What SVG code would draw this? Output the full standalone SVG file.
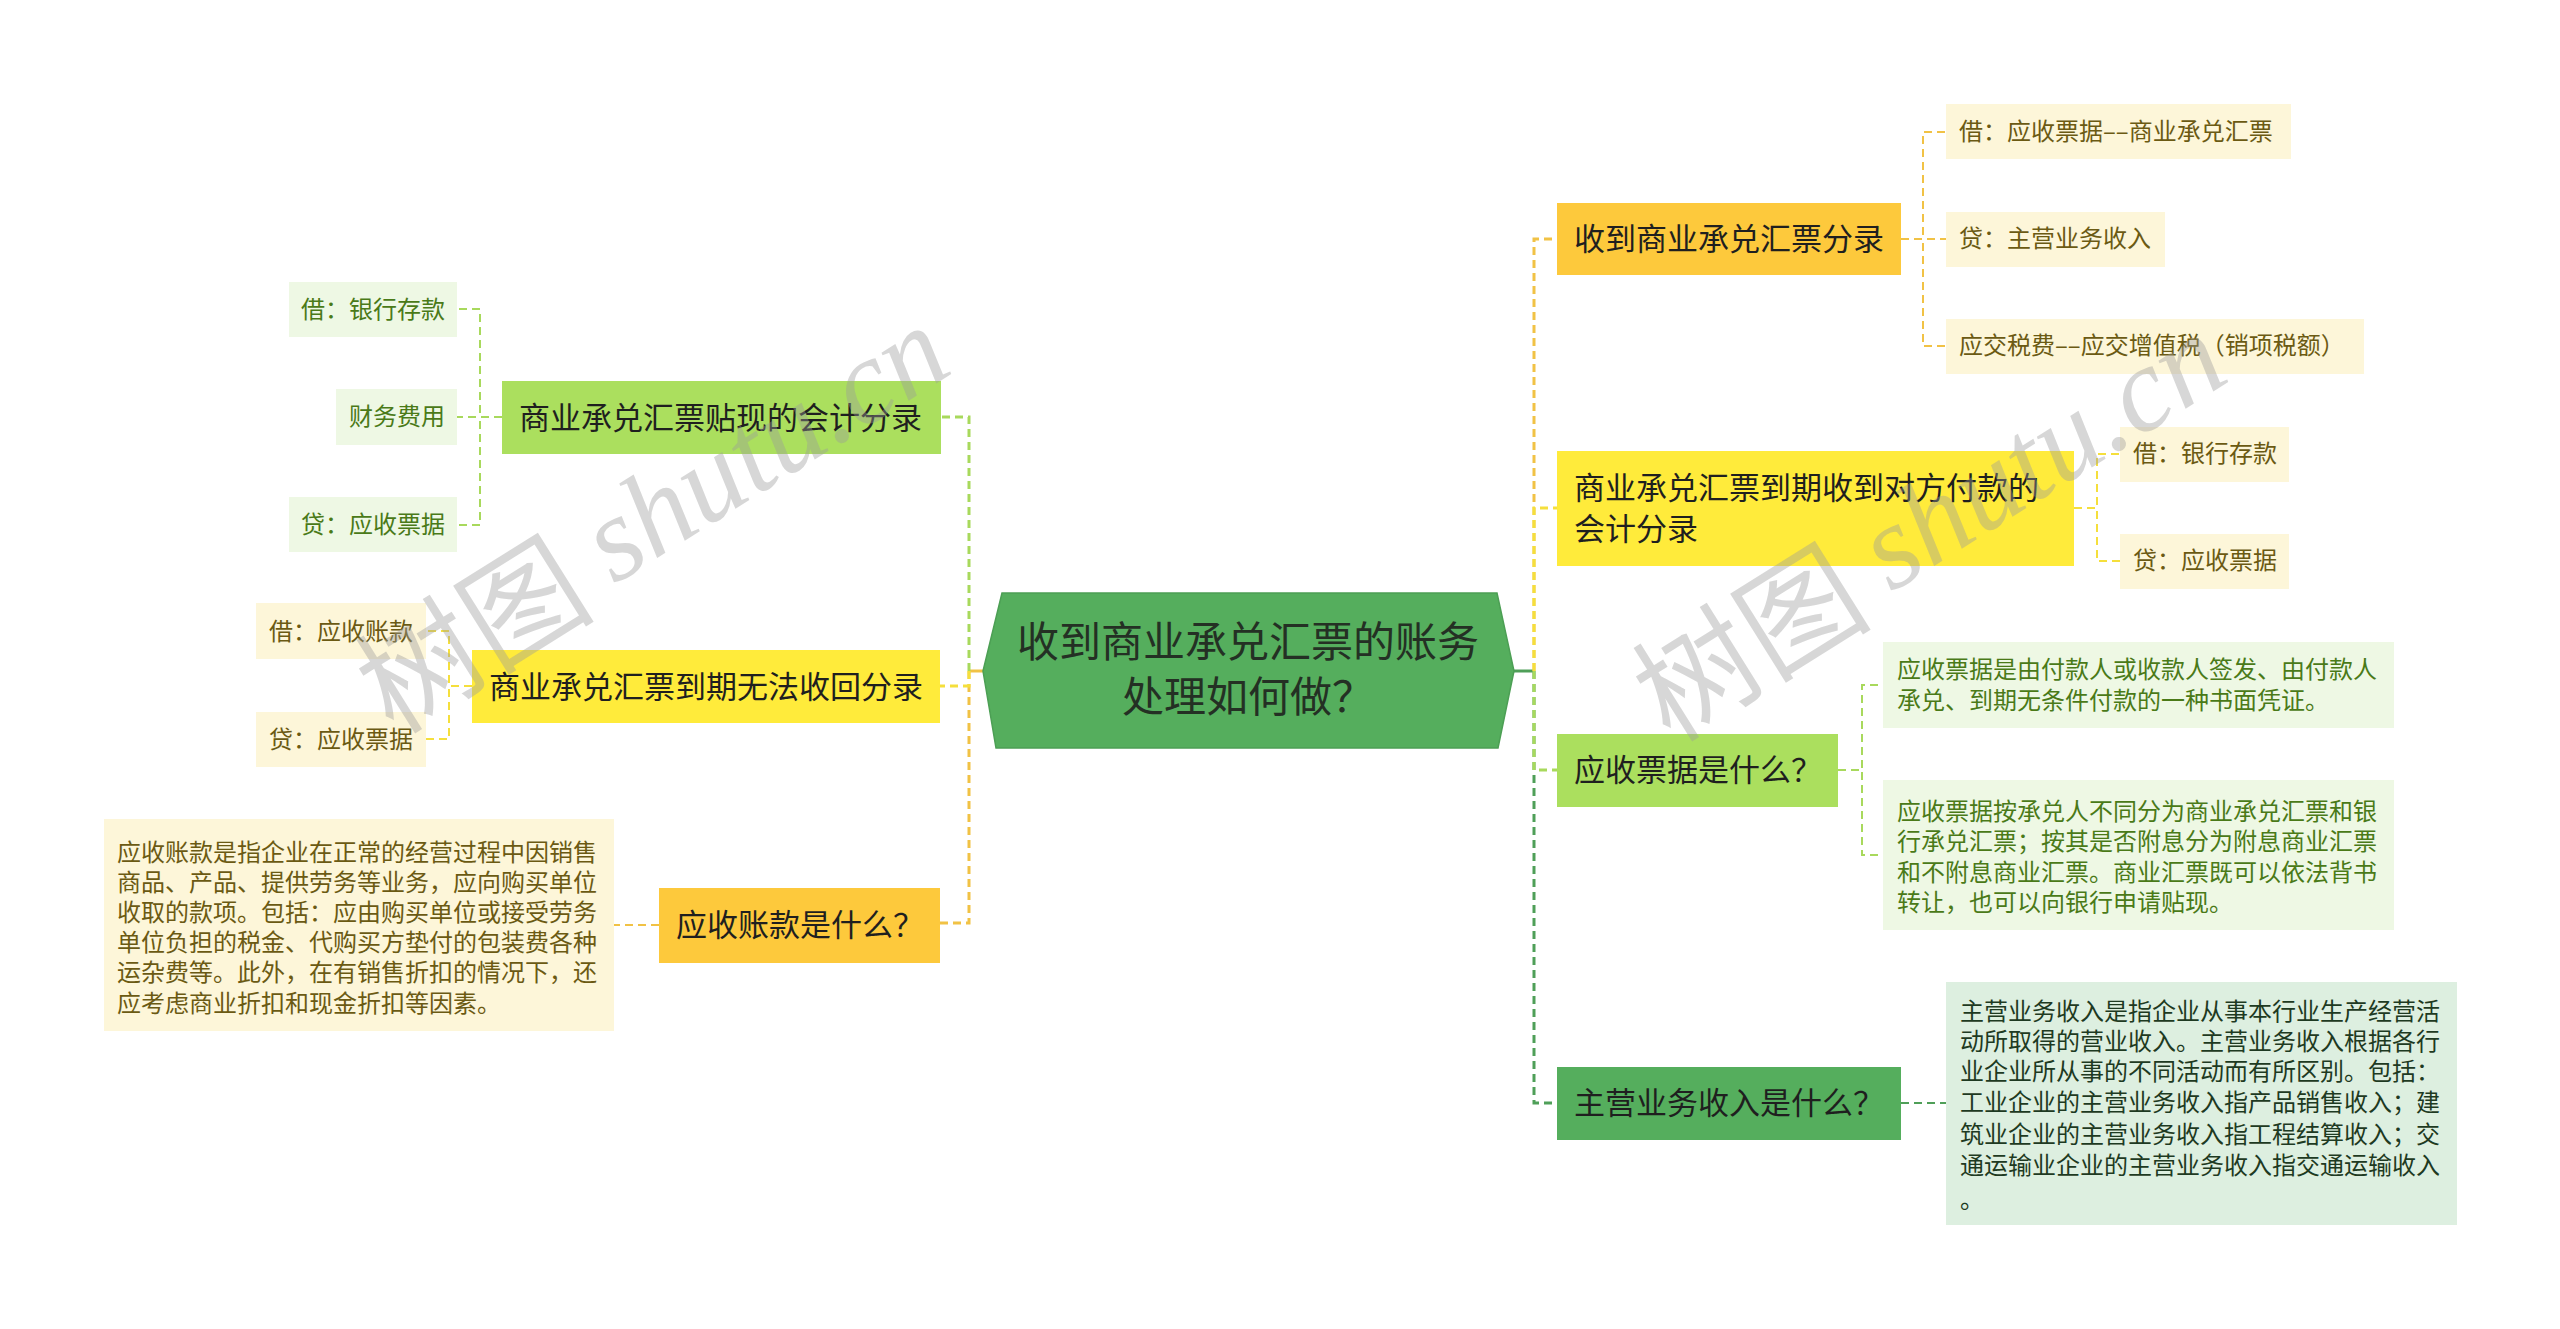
<svg xmlns="http://www.w3.org/2000/svg" width="2560" height="1329" viewBox="0 0 2560 1329">
<style>
text{font-family:"Noto Sans CJK SC","Noto Sans",sans-serif;dominant-baseline:central}
.main{font-size:42px;fill:#243024;text-anchor:middle;transform:translateY(-5px)}
.br{font-size:31px;fill:#1f1f1f;transform:translateY(-3px)}
.lf{font-size:24px;transform:translateY(-3px)}
.ty{fill:#6b5a13}
.tg{fill:#4a7a18}
.td{fill:#1e3a22}
.bo{fill:#fdc93c}
.by{fill:#ffeb3b}
.bl{fill:#abdf5e}
.bd{fill:#55ae5d}
.ly{fill:#fdf6d9}
.lg{fill:#eef8e4}
.ld{fill:#ddefe0}
.c{fill:none;stroke-width:2;stroke-dasharray:8 5}
.t{fill:none;stroke-width:3;stroke-dasharray:8 5}
.s{fill:none;stroke-width:3}
.co{stroke:#f1c245}
.cy{stroke:#f5df3c}
.cl{stroke:#a8d95c}
.cd{stroke:#4f9f58}
.wm{font-size:120px;fill:#9a9a9a;fill-opacity:0.4;text-anchor:middle}
</style>

<g id="connectors">
  <path class="s co" d="M969 671 H983"/>
  <path class="t cl" d="M969 671 V417 H941"/>
  <path class="t co" d="M969 671 V923 H940"/>
  <path class="t cy" d="M969 671 V686 H940"/>
  <path class="s cd" d="M1514 671 H1534"/>
  <path class="t co" d="M1534 671 V239 H1557"/>
  <path class="t cy" d="M1534 671 V508 H1557"/>
  <path class="t cd" d="M1534 671 V1103 H1557"/>
  <path class="t cl" d="M1534 671 V770 H1557"/>
  <path class="c co" d="M1901 239 H1923 V132 H1946"/>
  <path class="c co" d="M1901 239 H1946"/>
  <path class="c co" d="M1901 239 H1923 V346 H1946"/>
  <path class="c cy" d="M2074 508 H2097 V454 H2120"/>
  <path class="c cy" d="M2074 508 H2097 V561 H2120"/>
  <path class="c cl" d="M1838 770 H1862 V685 H1883"/>
  <path class="c cl" d="M1838 770 H1862 V855 H1883"/>
  <path class="c cd" d="M1901 1103 H1946"/>
  <path class="c cl" d="M502 417 H480 V309 H457"/>
  <path class="c cl" d="M502 417 H457"/>
  <path class="c cl" d="M502 417 H480 V525 H457"/>
  <path class="c cy" d="M472 686 H449 V631 H426"/>
  <path class="c cy" d="M472 686 H449 V739 H426"/>
  <path class="c co" d="M659 925 H614"/>
</g>

<g id="center">
  <polygon points="1002,593 1497,593 1514,671 1498,748 996,748 983,671" fill="#55ae5d" stroke="#4c9f54" stroke-width="1.5"/>
  <text class="main" x="1248" y="643">收到商业承兑汇票的账务</text>
  <text class="main" x="1248" y="698">处理如何做？</text>
</g>

<g id="r1">
  <rect class="bo" x="1557" y="203" width="344" height="72"/>
  <text class="br" x="1574" y="239">收到商业承兑汇票分录</text>
</g>
<g id="r1a">
  <rect class="ly" x="1946" y="104" width="345" height="55"/>
  <text class="lf ty" x="1959" y="132">借：应收票据––商业承兑汇票</text>
</g>
<g id="r1b">
  <rect class="ly" x="1946" y="212" width="219" height="55"/>
  <text class="lf ty" x="1959" y="239">贷：主营业务收入</text>
</g>
<g id="r1c">
  <rect class="ly" x="1946" y="319" width="418" height="55"/>
  <text class="lf ty" x="1959" y="346">应交税费––应交增值税（销项税额）</text>
</g>

<g id="r2">
  <rect class="by" x="1557" y="451" width="517" height="115"/>
  <text class="br" x="1574" y="488">商业承兑汇票到期收到对方付款的</text>
  <text class="br" x="1574" y="529">会计分录</text>
</g>
<g id="r2a">
  <rect class="ly" x="2120" y="427" width="169" height="55"/>
  <text class="lf ty" x="2133" y="454">借：银行存款</text>
</g>
<g id="r2b">
  <rect class="ly" x="2120" y="534" width="169" height="55"/>
  <text class="lf ty" x="2133" y="561">贷：应收票据</text>
</g>

<g id="r3">
  <rect class="bl" x="1557" y="734" width="281" height="73"/>
  <text class="br" x="1574" y="770">应收票据是什么？</text>
</g>
<g id="r3a">
  <rect class="lg" x="1883" y="642" width="511" height="86"/>
  <text class="lf tg" x="1897" y="670">应收票据是由付款人或收款人签发、由付款人</text>
  <text class="lf tg" x="1897" y="701">承兑、到期无条件付款的一种书面凭证。</text>
</g>
<g id="r3b">
  <rect class="lg" x="1883" y="780" width="511" height="150"/>
  <text class="lf tg" x="1897" y="812">应收票据按承兑人不同分为商业承兑汇票和银</text>
  <text class="lf tg" x="1897" y="842">行承兑汇票；按其是否附息分为附息商业汇票</text>
  <text class="lf tg" x="1897" y="873">和不附息商业汇票。商业汇票既可以依法背书</text>
  <text class="lf tg" x="1897" y="903">转让，也可以向银行申请贴现。</text>
</g>

<g id="r4">
  <rect class="bd" x="1557" y="1067" width="344" height="73"/>
  <text class="br" x="1574" y="1103">主营业务收入是什么？</text>
</g>
<g id="r4a">
  <rect class="ld" x="1946" y="982" width="511" height="243"/>
  <text class="lf td" x="1960" y="1012">主营业务收入是指企业从事本行业生产经营活</text>
  <text class="lf td" x="1960" y="1042">动所取得的营业收入。主营业务收入根据各行</text>
  <text class="lf td" x="1960" y="1072">业企业所从事的不同活动而有所区别。包括：</text>
  <text class="lf td" x="1960" y="1103">工业企业的主营业务收入指产品销售收入；建</text>
  <text class="lf td" x="1960" y="1135">筑业企业的主营业务收入指工程结算收入；交</text>
  <text class="lf td" x="1960" y="1166">通运输业企业的主营业务收入指交通运输收入</text>
  <text class="lf td" x="1960" y="1200">。</text>
</g>

<g id="l1">
  <rect class="bl" x="502" y="381" width="439" height="73"/>
  <text class="br" x="519" y="418">商业承兑汇票贴现的会计分录</text>
</g>
<g id="l1a">
  <rect class="lg" x="289" y="282" width="168" height="55"/>
  <text class="lf tg" x="301" y="310">借：银行存款</text>
</g>
<g id="l1b">
  <rect class="lg" x="336" y="389" width="121" height="56"/>
  <text class="lf tg" x="349" y="417">财务费用</text>
</g>
<g id="l1c">
  <rect class="lg" x="289" y="497" width="168" height="55"/>
  <text class="lf tg" x="301" y="525">贷：应收票据</text>
</g>

<g id="l2">
  <rect class="by" x="472" y="650" width="468" height="73"/>
  <text class="br" x="489" y="687">商业承兑汇票到期无法收回分录</text>
</g>
<g id="l2a">
  <rect class="ly" x="256" y="603" width="170" height="56"/>
  <text class="lf ty" x="269" y="632">借：应收账款</text>
</g>
<g id="l2b">
  <rect class="ly" x="256" y="712" width="170" height="55"/>
  <text class="lf ty" x="269" y="740">贷：应收票据</text>
</g>

<g id="l3">
  <rect class="bo" x="659" y="888" width="281" height="75"/>
  <text class="br" x="676" y="925">应收账款是什么？</text>
</g>
<g id="l3a">
  <rect class="ly" x="104" y="819" width="510" height="212"/>
  <text class="lf ty" x="117" y="853">应收账款是指企业在正常的经营过程中因销售</text>
  <text class="lf ty" x="117" y="883">商品、产品、提供劳务等业务，应向购买单位</text>
  <text class="lf ty" x="117" y="913">收取的款项。包括：应由购买单位或接受劳务</text>
  <text class="lf ty" x="117" y="943">单位负担的税金、代购买方垫付的包装费各种</text>
  <text class="lf ty" x="117" y="973">运杂费等。此外，在有销售折扣的情况下，还</text>
  <text class="lf ty" x="117" y="1004">应考虑商业折扣和现金折扣等因素。</text>
</g>

<g id="watermarks">
  <text class="wm" transform="translate(650,514) rotate(-32)">树图 <tspan font-family="Liberation Serif" font-style="italic">shutu.cn</tspan></text>
  <text class="wm" transform="translate(1927,522) rotate(-32)">树图 <tspan font-family="Liberation Serif" font-style="italic">shutu.cn</tspan></text>
</g>
</svg>
